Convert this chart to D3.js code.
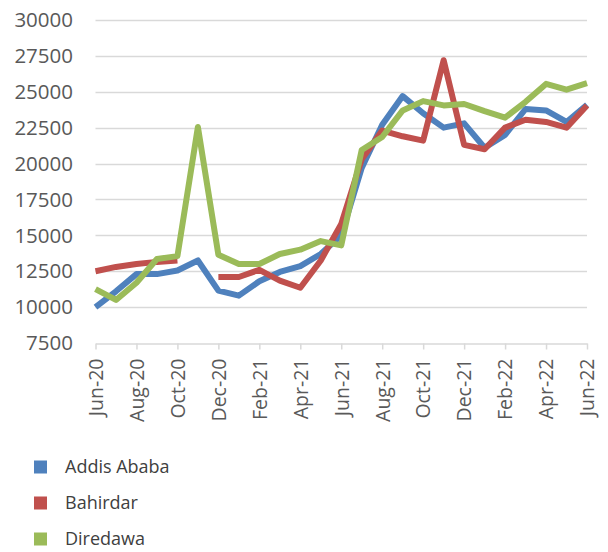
<!DOCTYPE html>
<meta charset="utf-8">
<style>
  body { margin: 0; background: #fff; }
  text { font-family: "Open Sans", sans-serif; }
</style>
<script src="https://d3js.org/d3.v7.min.js"></script>
<div id="chart"></div>
<script>
// month labels (one per data point)
var months = ["Jun-20", "Jul-20", "Aug-20", "Sep-20", "Oct-20", "Nov-20", "Dec-20",
  "Jan-21", "Feb-21", "Mar-21", "Apr-21", "May-21", "Jun-21", "Jul-21", "Aug-21",
  "Sep-21", "Oct-21", "Nov-21", "Dec-21", "Jan-22", "Feb-22", "Mar-22", "Apr-22",
  "May-22", "Jun-22"];

var addisAbaba = [10000, 11100, 12300, 12300, 12550, 13250, 11150, 10800, 11800, 12450,
  12850, 13700, 15000, 19700, 22700, 24700, 23500, 22500, 22800, 21100, 22000, 23800,
  23700, 22900, 24100];
var bahirdar = [12500, 12800, 13000, 13150, 13250, null, 12100, 12100, 12600, 11850,
  11350, 13250, 15800, 20300, 22300, 21900, 21600, 27200, 21300, 21000, 22500, 23050,
  22900, 22500, 24050];
var diredawa = [11250, 10500, 11700, 13350, 13550, 22550, 13650, 13000, 13000, 13700,
  14000, 14600, 14300, 20950, 21850, 23700, 24350, 24050, 24150, 23650, 23200, 24300,
  25550, 25150, 25600];

var seriesNames = ["Addis Ababa", "Bahirdar", "Diredawa"];
var seriesColors = ["#4f81bd", "#c0504d", "#9bbb59"];
var yTicks = [7500, 10000, 12500, 15000, 17500, 20000, 22500, 25000, 27500, 30000];

var width = 608, height = 552;
var plot = {left: 95.5, right: 587, top: 20, bottom: 343};

var svg = d3.select("#chart").append("svg")
  .attr("width", width)
  .attr("height", height);

var x = d3.scalePoint()
  .domain(months)
  .range([plot.left, plot.right]);

var y = d3.scaleLinear()
  .domain([7500, 30000])
  .range([plot.bottom, plot.top]);

// gridlines
svg.append("g")
  .selectAll("line")
  .data(yTicks.slice(1))
  .enter().append("line")
    .attr("x1", plot.left).attr("x2", plot.right)
    .attr("y1", function(d) { return Math.round(y(d)) + 0.5; })
    .attr("y2", function(d) { return Math.round(y(d)) + 0.5; })
    .attr("stroke", "#d9d9d9")
    .attr("stroke-width", 1.5);

// y labels
svg.append("g")
  .selectAll("text")
  .data(yTicks)
  .enter().append("text")
    .attr("x", 73)
    .attr("y", function(d) { return y(d); })
    .attr("dy", "0.35em")
    .attr("text-anchor", "end")
    .attr("fill", "#595959")
    .style("font-size", "20.5px")
    .text(function(d) { return d; });

// x axis
var xAxis = svg.append("g")
  .attr("transform", "translate(0," + (plot.bottom + 0.5) + ")")
  .call(d3.axisBottom(x)
    .tickValues(months.filter(function(d, i) { return i % 2 === 0; }))
    .tickSize(6)
    .tickSizeOuter(0)
    .tickPadding(10));
xAxis.select(".domain").attr("stroke", "#d9d9d9").attr("stroke-width", 1.5);
xAxis.selectAll(".tick line").attr("stroke", "#d9d9d9").attr("stroke-width", 1.5);
xAxis.selectAll(".tick text")
  .attr("transform", "rotate(-90)")
  .attr("text-anchor", "end")
  .attr("x", -15)
  .attr("y", 0)
  .attr("dy", "0.35em")
  .attr("fill", "#595959")
  .style("font-size", "19.5px")
  .style("font-family", "'Open Sans', sans-serif");

// lines
var line = d3.line()
  .defined(function(d) { return d != null; })
  .x(function(d, i) { return x(months[i]); })
  .y(function(d) { return y(d); });

var allSeries = [addisAbaba, bahirdar, diredawa];
svg.append("g")
  .selectAll("path")
  .data(allSeries)
  .enter().append("path")
    .attr("d", line)
    .attr("fill", "none")
    .attr("stroke", function(d, i) { return seriesColors[i]; })
    .attr("stroke-width", 6)
    .attr("stroke-linejoin", "round");

// legend
var legend = svg.append("g")
  .selectAll("g")
  .data(seriesNames)
  .enter().append("g")
    .attr("transform", function(d, i) { return "translate(34," + (467 + i * 36) + ")"; });
legend.append("rect")
  .attr("x", 0).attr("y", -6.5)
  .attr("width", 13).attr("height", 13)
  .attr("fill", function(d, i) { return seriesColors[i]; });
legend.append("text")
  .attr("x", 31)
  .attr("dy", "0.35em")
  .attr("fill", "#404040")
  .style("font-size", "18px")
  .text(function(d) { return d; });
</script>
